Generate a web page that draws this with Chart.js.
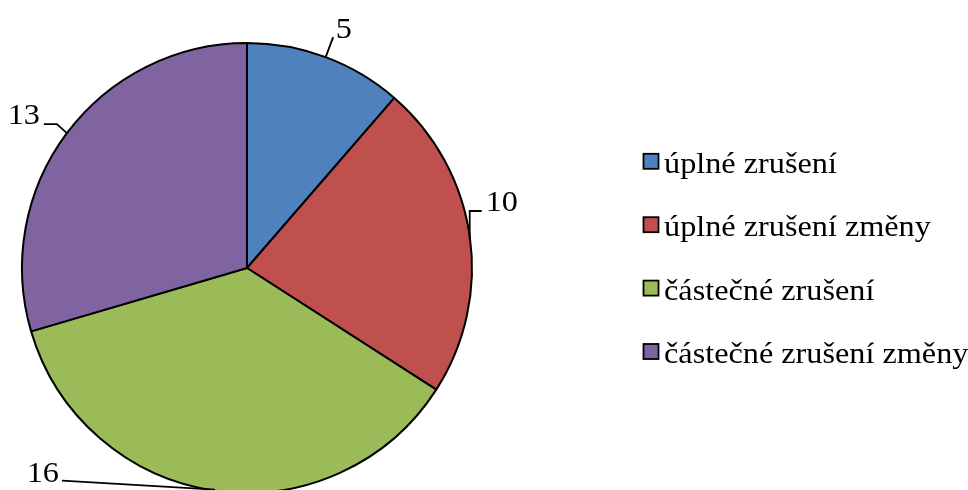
<!DOCTYPE html>
<html>
<head>
<meta charset="utf-8">
<script src="https://cdn.jsdelivr.net/npm/chart.js@4"></script>
<style>
  html, body { margin: 0; padding: 0; background: #fff; overflow: hidden; }
  #wrap { width: 968px; height: 490px; overflow: hidden; }
</style>
</head>
<body>
<div id="wrap">
  <canvas id="chart" width="968" height="500"></canvas>
</div>
<script>
// Chart data
const categories = ['úplné zrušení', 'úplné zrušení změny', 'částečné zrušení', 'částečné zrušení změny'];
const counts = [5, 10, 16, 13];
const sliceColors = ['#4F81BD', '#C0504D', '#9BBB59', '#8064A2'];

// Leader line layout for each value label, relative to the slice's arc midpoint
const labelLayout = [
  { line: [[0, 0], [7.5, -20]], text: [10, -19.5], align: 'left' },
  { line: [[0, 4], [0, -25], [12, -25]], text: [16, -25], align: 'left' },
  { line: [[0, -1], [-153, -10]], text: [-156, -9], align: 'right' },
  { line: [[0, 0], [-10, -9], [-23, -9]], text: [-27, -9], align: 'right' }
];

const FONT = '30px "Liberation Serif", "Times New Roman", serif';
const STRETCH = 1.075; // text in the original is a bit wide

function wideText(ctx, str, x, y) {
  ctx.save();
  ctx.translate(x, y);
  ctx.scale(STRETCH, 1);
  ctx.fillText(str, 0, 0);
  ctx.restore();
}

// Draws value labels with leader lines
const valueLabels = {
  id: 'valueLabels',
  afterDatasetsDraw(chart) {
    const ctx = chart.ctx;
    const meta = chart.getDatasetMeta(0);
    ctx.save();
    ctx.strokeStyle = '#000';
    ctx.fillStyle = '#000';
    ctx.lineWidth = 1.8;
    ctx.font = FONT;
    ctx.textBaseline = 'alphabetic';
    meta.data.forEach((arc, i) => {
      const p = arc.getProps(['x', 'y', 'startAngle', 'endAngle', 'outerRadius'], true);
      const mid = (p.startAngle + p.endAngle) / 2;
      const ax = p.x + Math.cos(mid) * p.outerRadius;
      const ay = p.y + Math.sin(mid) * p.outerRadius;
      const lay = labelLayout[i];
      ctx.beginPath();
      lay.line.forEach(([dx, dy], k) => {
        if (k === 0) ctx.moveTo(ax + dx, ay + dy);
        else ctx.lineTo(ax + dx, ay + dy);
      });
      ctx.stroke();
      ctx.textAlign = lay.align;
      wideText(ctx, String(counts[i]), ax + lay.text[0], ay + lay.text[1]);
    });
    ctx.restore();
  }
};

// Draws the legend on the right
const sideLegend = {
  id: 'sideLegend',
  afterDraw(chart) {
    const ctx = chart.ctx;
    const x = 643.5, top = 161.3, step = 63.4, box = 15;
    ctx.save();
    ctx.font = FONT;
    ctx.textAlign = 'left';
    ctx.textBaseline = 'alphabetic';
    categories.forEach((name, i) => {
      const cy = top + i * step;
      ctx.fillStyle = sliceColors[i];
      ctx.fillRect(x, cy - box / 2, box, box);
      ctx.strokeStyle = '#000';
      ctx.lineWidth = 1.8;
      ctx.strokeRect(x, cy - box / 2, box, box);
      ctx.fillStyle = '#000';
      wideText(ctx, name, 664, cy + 11.4);
    });
    ctx.restore();
  }
};

new Chart(document.getElementById('chart'), {
  type: 'pie',
  data: {
    labels: categories,
    datasets: [{
      data: counts,
      backgroundColor: sliceColors,
      borderColor: '#000',
      borderWidth: 2
    }]
  },
  options: {
    responsive: false,
    animation: false,
    layout: { padding: { left: 21, right: 495, top: 42, bottom: 6 } },
    plugins: {
      legend: { display: false },
      tooltip: { enabled: false }
    }
  },
  plugins: [valueLabels, sideLegend]
});
</script>
</body>
</html>
